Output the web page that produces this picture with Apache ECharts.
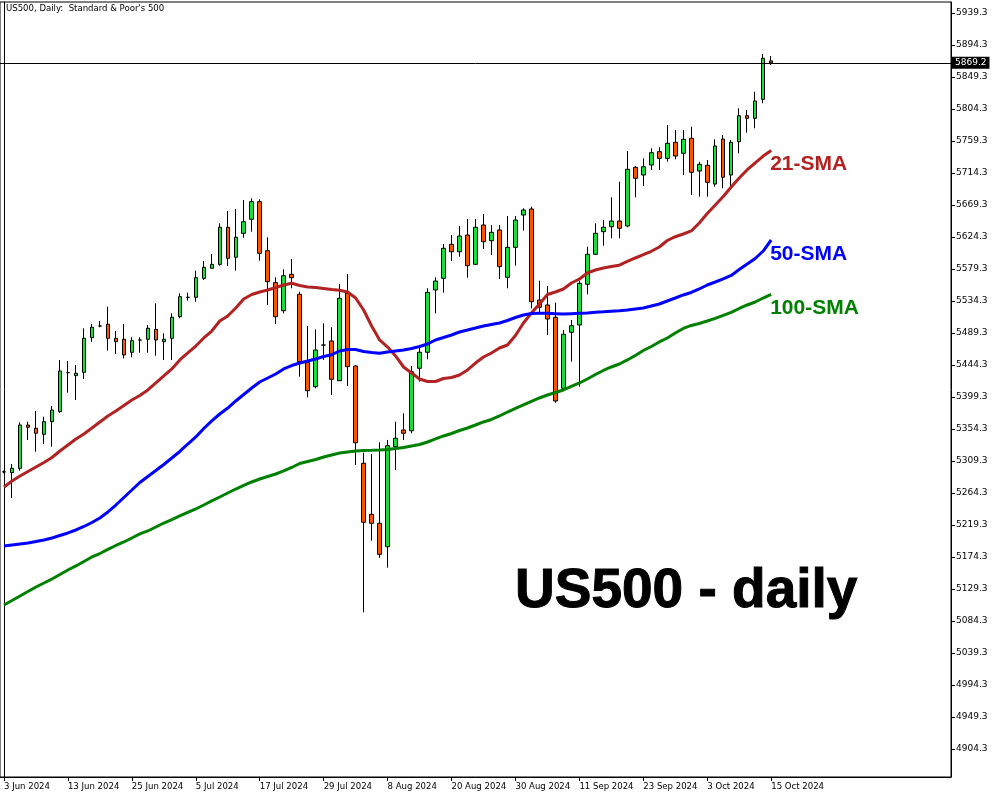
<!DOCTYPE html>
<html><head><meta charset="utf-8">
<script src="https://cdn.jsdelivr.net/npm/echarts@6/dist/echarts.min.js"></script>
<style>html,body{margin:0;padding:0;background:#fff}#c{width:1000px;height:800px}</style>
</head><body><div id="c"></div>
<script>
const dates = [
 '3 Jun 2024','4 Jun 2024','5 Jun 2024','6 Jun 2024','7 Jun 2024','10 Jun 2024','11 Jun 2024','12 Jun 2024','13 Jun 2024','14 Jun 2024',
 '17 Jun 2024','18 Jun 2024','19 Jun 2024','20 Jun 2024','21 Jun 2024','24 Jun 2024','25 Jun 2024','26 Jun 2024','27 Jun 2024','28 Jun 2024',
 '1 Jul 2024','2 Jul 2024','3 Jul 2024','4 Jul 2024','5 Jul 2024','8 Jul 2024','9 Jul 2024','10 Jul 2024','11 Jul 2024','12 Jul 2024',
 '15 Jul 2024','16 Jul 2024','17 Jul 2024','18 Jul 2024','19 Jul 2024','22 Jul 2024','23 Jul 2024','24 Jul 2024','25 Jul 2024','26 Jul 2024',
 '29 Jul 2024','30 Jul 2024','31 Jul 2024','1 Aug 2024','2 Aug 2024','5 Aug 2024','6 Aug 2024','7 Aug 2024','8 Aug 2024','9 Aug 2024',
 '12 Aug 2024','13 Aug 2024','14 Aug 2024','15 Aug 2024','16 Aug 2024','19 Aug 2024','20 Aug 2024','21 Aug 2024','22 Aug 2024','23 Aug 2024',
 '26 Aug 2024','27 Aug 2024','28 Aug 2024','29 Aug 2024','30 Aug 2024','2 Sep 2024','3 Sep 2024','4 Sep 2024','5 Sep 2024','6 Sep 2024',
 '9 Sep 2024','10 Sep 2024','11 Sep 2024','12 Sep 2024','13 Sep 2024','16 Sep 2024','17 Sep 2024','18 Sep 2024','19 Sep 2024','20 Sep 2024',
 '23 Sep 2024','24 Sep 2024','25 Sep 2024','26 Sep 2024','27 Sep 2024','30 Sep 2024','1 Oct 2024','2 Oct 2024','3 Oct 2024','4 Oct 2024',
 '7 Oct 2024','8 Oct 2024','9 Oct 2024','10 Oct 2024','11 Oct 2024','14 Oct 2024','15 Oct 2024'
];
const opens = [
 5294.0,5292.9,5299.0,5359.9,5355.3,5346.9,5364.6,5378.7,5433.5,5429.3,
 5434.0,5482.7,5499.2,5501.6,5481.9,5480.5,5462.2,5479.5,5480.5,5494.5,
 5477.1,5481.9,5512.2,5539.5,5539.5,5566.2,5580.3,5585.9,5638.0,5595.8,
 5629.5,5649.2,5674.0,5605.1,5560.1,5520.7,5571.9,5543.7,5447.6,5413.8,
 5472.4,5478.1,5422.2,5545.1,5442.9,5306.1,5234.3,5221.7,5188.8,5329.4,
 5352.9,5351.9,5439.7,5462.2,5549.8,5566.2,5614.0,5603.6,5627.1,5585.9,
 5641.2,5619.1,5634.2,5567.6,5609.8,5655.2,5663.7,5535.7,5528.7,5511.4,
 5411.5,5490.3,5500.6,5557.8,5600.0,5631.8,5638.8,5646.8,5639.8,5722.3,
 5711.5,5725.6,5744.3,5734.9,5757.5,5742.0,5763.1,5717.1,5725.1,5698.8,
 5762.1,5711.5,5758.3,5794.9,5791.2,5818.0,5872.0
];
const highs = [
 5296.0,5305.1,5363.7,5364.6,5379.6,5371.6,5386.7,5451.3,5449.9,5444.3,
 5495.9,5502.0,5506.2,5526.3,5492.1,5502.0,5483.3,5483.3,5500.6,5531.1,
 5488.9,5517.0,5545.1,5546.0,5576.9,5590.6,5600.4,5643.6,5660.9,5663.7,
 5676.3,5678.7,5677.3,5623.9,5567.6,5578.9,5593.4,5547.4,5499.2,5494.5,
 5503.0,5497.4,5558.2,5572.3,5444.5,5321.0,5319.2,5335.6,5338.8,5364.6,
 5376.4,5442.9,5470.0,5552.2,5567.6,5614.5,5627.1,5639.8,5649.6,5649.6,
 5656.7,5641.2,5641.2,5653.8,5653.8,5664.7,5666.9,5562.9,5555.4,5531.9,
 5493.5,5507.6,5562.9,5610.7,5643.6,5648.2,5680.1,5702.1,5745.2,5724.2,
 5735.0,5749.0,5750.4,5781.8,5774.8,5774.8,5779.4,5730.2,5732.6,5761.7,
 5767.8,5760.7,5805.3,5802.9,5828.6,5881.6,5878.9
];
const lows = [
 5292.0,5257.3,5295.7,5338.9,5322.4,5333.2,5329.4,5377.2,5405.4,5395.1,
 5424.6,5477.1,5497.4,5464.4,5459.8,5453.7,5455.2,5461.6,5461.6,5457.4,
 5451.4,5451.4,5510.0,5534.7,5533.3,5563.8,5580.3,5584.0,5583.5,5576.9,
 5623.3,5631.8,5591.0,5528.7,5502.0,5517.0,5552.2,5427.9,5398.9,5411.5,
 5451.4,5402.1,5422.2,5414.8,5303.7,5096.5,5197.2,5173.3,5159.3,5296.7,
 5338.8,5348.3,5420.8,5452.3,5517.0,5546.0,5590.6,5596.6,5567.1,5584.9,
 5607.4,5599.0,5565.2,5552.2,5584.0,5633.2,5524.0,5517.0,5486.5,5391.3,
 5408.2,5449.0,5413.8,5543.7,5599.0,5612.1,5622.5,5622.5,5638.0,5680.1,
 5696.0,5718.5,5718.5,5730.2,5733.6,5711.5,5683.4,5681.0,5681.0,5695.0,
 5692.8,5692.8,5742.0,5771.0,5777.2,5812.3,5866.2
];
const closes = [
 5294.0,5299.0,5359.9,5356.7,5348.3,5364.6,5381.0,5435.9,5433.5,5432.6,
 5481.9,5497.4,5499.2,5481.9,5477.1,5458.4,5478.5,5479.5,5495.9,5479.5,
 5480.5,5511.4,5540.4,5539.5,5567.1,5581.7,5585.9,5638.0,5594.4,5623.9,
 5645.8,5674.0,5601.4,5561.5,5512.2,5569.9,5567.1,5449.0,5408.2,5465.4,
 5472.4,5424.2,5538.1,5442.0,5335.0,5223.1,5221.7,5178.1,5330.8,5341.3,
 5348.3,5434.9,5462.2,5546.5,5562.4,5608.4,5603.6,5625.7,5584.0,5638.0,
 5617.7,5630.9,5582.6,5609.8,5648.2,5662.3,5533.3,5525.5,5509.0,5393.7,
 5487.5,5499.6,5559.2,5600.0,5629.5,5638.0,5646.8,5636.6,5719.5,5706.9,
 5723.2,5742.9,5734.9,5756.1,5738.2,5761.7,5715.3,5726.5,5701.2,5752.3,
 5708.3,5757.5,5794.9,5791.2,5815.6,5875.6,5869.2
];
const sma21 = [
 5272.8,5281.2,5288.2,5294.6,5300.9,5307.2,5314.2,5323.4,5331.8,5340.3,
 5347.3,5355.7,5364.2,5372.6,5379.6,5387.4,5395.1,5401.4,5409.2,5419.0,
 5428.9,5438.7,5451.4,5461.2,5471.0,5482.3,5492.1,5506.2,5513.2,5524.5,
 5537.1,5543.5,5547.0,5549.8,5553.3,5556.8,5559.2,5556.1,5554.0,5553.3,
 5551.9,5550.5,5549.4,5547.0,5538.5,5521.7,5499.2,5479.5,5469.6,5457.0,
 5441.5,5433.1,5424.6,5421.1,5421.1,5425.3,5426.7,5430.3,5437.3,5447.1,
 5455.6,5461.2,5468.2,5472.4,5485.8,5503.4,5517.5,5530.1,5543.5,5547.0,
 5551.2,5559.6,5565.3,5573.7,5577.9,5580.7,5582.8,5584.7,5589.9,5594.8,
 5599.4,5604.2,5610.3,5619.4,5624.7,5628.5,5632.8,5644.0,5657.4,5669.3,
 5681.3,5694.6,5707.3,5719.0,5728.4,5738.2,5745.9
];
const sma50 = [
 5189.8,5191.2,5192.6,5194.0,5196.1,5198.2,5201.0,5204.6,5208.1,5212.3,
 5217.2,5222.8,5229.2,5237.6,5247.4,5258.0,5268.5,5279.1,5287.5,5295.9,
 5304.4,5313.5,5322.7,5333.2,5343.1,5355.0,5365.6,5375.4,5383.8,5393.7,
 5402.8,5412.0,5420.4,5426.0,5431.7,5438.7,5443.6,5447.1,5449.9,5452.8,
 5456.3,5458.8,5464.0,5466.1,5466.1,5463.3,5461.9,5460.8,5462.6,5464.0,
 5465.4,5467.5,5470.3,5473.9,5479.5,5483.0,5486.5,5490.7,5493.5,5496.4,
 5499.2,5501.3,5503.4,5506.9,5511.1,5514.6,5516.7,5517.0,5517.0,5516.5,
 5516.0,5516.5,5517.0,5517.4,5518.4,5519.1,5520.0,5520.7,5521.7,5523.1,
 5524.5,5527.3,5530.1,5534.3,5538.5,5542.8,5546.3,5551.2,5556.8,5561.0,
 5565.3,5570.2,5578.6,5586.3,5594.1,5604.6,5620.1
];
const sma100 = [
 5106.8,5113.1,5119.5,5125.8,5132.1,5137.7,5143.4,5149.7,5156.0,5161.7,
 5168.0,5174.3,5179.2,5184.9,5190.5,5195.4,5201.0,5206.7,5210.9,5216.5,
 5222.1,5227.0,5232.0,5236.9,5241.8,5247.4,5253.1,5258.7,5264.3,5269.9,
 5274.9,5279.8,5284.0,5287.5,5291.0,5295.3,5300.2,5305.8,5308.6,5311.4,
 5314.9,5317.8,5320.6,5322.0,5323.4,5324.1,5324.4,5324.8,5325.5,5326.9,
 5328.3,5330.4,5332.5,5336.0,5340.3,5344.5,5348.0,5352.2,5355.7,5359.9,
 5364.2,5367.7,5372.6,5378.2,5383.2,5388.1,5393.0,5397.9,5402.1,5405.6,
 5409.2,5414.1,5419.0,5424.6,5430.9,5436.6,5441.5,5445.7,5451.4,5457.7,
 5464.7,5470.3,5476.7,5482.3,5489.3,5495.7,5499.9,5502.7,5506.2,5509.8,
 5514.0,5518.2,5523.8,5528.7,5532.9,5538.5,5543.5
];
const priceTicks = [
 4904.3,4949.3,4994.3,5039.3,5084.3,5129.3,5174.3,5219.3,5264.3,5309.3,5354.3,5399.3,
 5444.3,5489.3,5534.3,5579.3,5624.3,5669.3,5714.3,5759.3,5804.3,5849.3,5894.3,5939.3
];
const titleText = "US500, Daily:  Standard & Poor's 500";
const bigText = 'US500 - daily';
const smaNames = ['21-SMA', '50-SMA', '100-SMA'];

// layout helpers (empty future slots to the right of the last bar)
const totalSlots = 119;
const categories = dates.slice();
for (let i = dates.length; i < totalSlots; i++) categories.push('f' + i);
const candleData = opens.map((o, i) => [o, closes[i], lows[i], highs[i]]);
const lastClose = closes[closes.length - 1];
const nDates = dates.length;

const chart = echarts.init(document.getElementById('c'), null, {renderer: 'canvas'});
const axisFont = 'DejaVu Sans';
const smallFont = 'DejaVu Sans Condensed, DejaVu Sans';
function smaSeries(name, data, color) {
  return {
    type: 'line', name: name, data: data, showSymbol: false, symbol: 'none',
    lineStyle: {color: color, width: 3}, itemStyle: {color: color},
    z: 3,
    endLabel: {show: true, formatter: name, color: color, fontWeight: 'bold',
      fontSize: 21, fontFamily: 'Liberation Sans', distance: 0, offset: [-1, 14]}
  };
}
chart.setOption({
  animation: false,
  backgroundColor: '#fff',
  title: [
    {text: titleText, left: 6, top: 4, padding: 0,
     textStyle: {fontSize: 9.5, fontWeight: 'normal', fontFamily: smallFont, color: '#000'}},
    {text: bigText, left: 515, top: 564, padding: 0,
     textStyle: {fontSize: 55, fontWeight: 'bold', fontFamily: 'Liberation Sans', color: '#000',
       textBorderColor: '#000', textBorderWidth: 1}}
  ],
  grid: {left: -1, right: 49, top: 2, bottom: 23, show: true, borderColor: '#000', borderWidth: 1, containLabel: false},
  xAxis: {
    type: 'category', data: categories, boundaryGap: true,
    axisLine: {show: true, lineStyle: {color: '#000', width: 1}},
    axisTick: {show: true, alignWithLabel: true, length: 4, lineStyle: {color: '#000'},
      interval: (idx) => idx % 8 === 0 && idx < nDates},
    axisLabel: {show: true, align: 'left', margin: 5, color: '#000', fontSize: 9.5, fontFamily: smallFont,
      interval: (idx) => idx % 8 === 0 && idx < nDates,
      formatter: (v, idx) => idx < nDates ? v : ''},
    splitLine: {show: false}
  },
  yAxis: [
    {type: 'value', position: 'right', min: 4864.9, max: 5954.8, scale: true,
     axisLine: {show: true, onZero: false, lineStyle: {color: '#000', width: 1}},
     axisTick: {show: true, length: 4, lineStyle: {color: '#000'}, customValues: priceTicks},
     axisLabel: {show: true, margin: 5, color: '#000', fontSize: 9, fontFamily: axisFont,
       customValues: priceTicks, formatter: (v) => v.toFixed(1)},
     splitLine: {show: false}},
    {type: 'value', position: 'left', offset: -4, min: 0, max: 1,
     axisLine: {show: true, onZero: false, lineStyle: {color: '#000', width: 1}},
     axisTick: {show: false}, axisLabel: {show: false}, splitLine: {show: false}}
  ],
  series: [
    {
      type: 'candlestick', data: candleData, barWidth: 4, z: 2,
      itemStyle: {color: '#17e038', color0: '#ff5500', borderColor: '#000', borderColor0: '#000',
        borderColorDoji: '#000', borderWidth: 1},
      markLine: {
        silent: true, symbol: ['none', 'none'], animation: false,
        lineStyle: {color: '#000', width: 1, type: 'solid'},
        label: {show: true, position: 'end', distance: 1, formatter: lastClose.toFixed(1),
          color: '#fff', backgroundColor: '#000', padding: [2, 3, 1, 3], fontSize: 9, fontFamily: axisFont},
        data: [{yAxis: lastClose}]
      }
    },
    smaSeries(smaNames[0], sma21, '#b22222'),
    smaSeries(smaNames[1], sma50, '#0000ff'),
    smaSeries(smaNames[2], sma100, '#008000')
  ]
});
</script>
</body></html>
